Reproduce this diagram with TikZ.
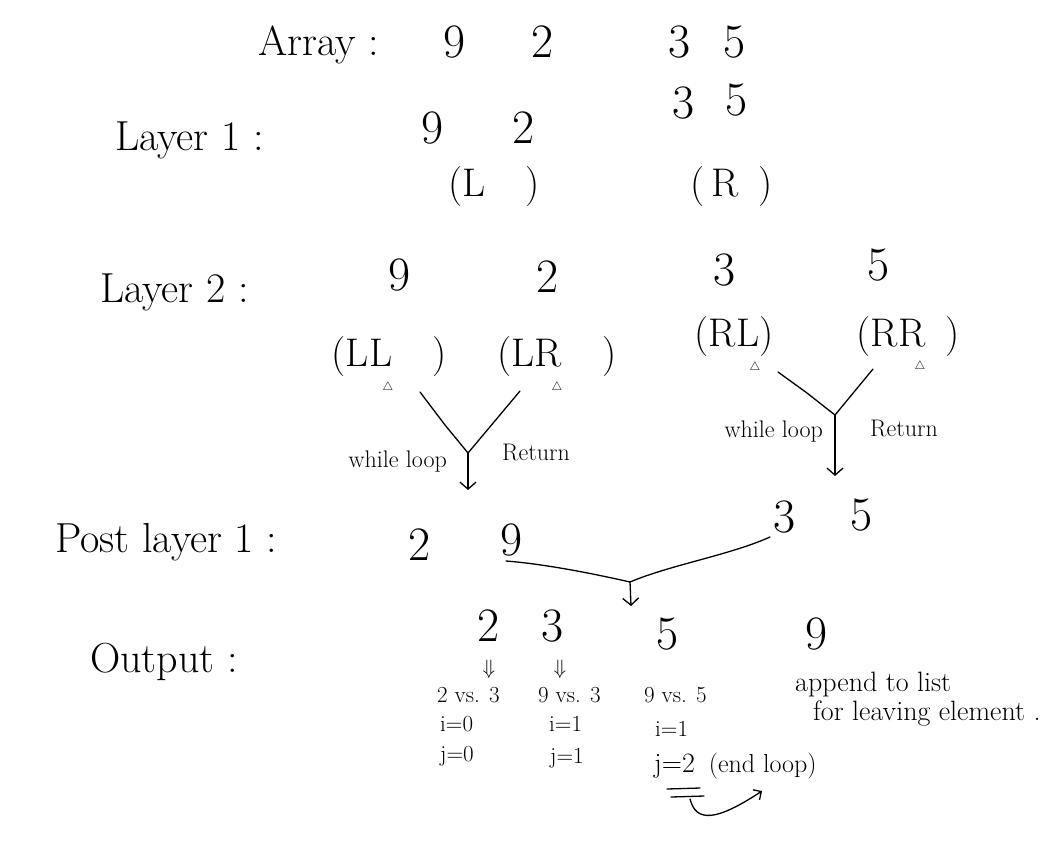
\documentclass[tikz,border=0pt]{standalone}
\usepackage{amsmath}
\usepackage{amssymb}
\usepackage{tikz}
\usetikzlibrary{arrows.meta,positioning}

\begin{document}
\begin{tikzpicture}[
      x=1pt,y=-1pt,
      row_label/.style={
         anchor=west,
         inner sep=0pt,
         font=\fontsize{42}{48}\selectfont},
      num_node/.style={
         inner sep=0pt,
         font=\fontsize{48}{54}\selectfont},
      part_node/.style={
         inner sep=0pt,
         font=\fontsize{40}{46}\selectfont},
      tri_mark/.style={
         inner sep=0pt,
         font=\fontsize{12}{14}\selectfont},
      note_node/.style={
         anchor=west,
         inner sep=0pt,
         font=\fontsize{24}{28}\selectfont},
      list_node/.style={
         anchor=west,
         inner sep=0pt,
         font=\fontsize{28}{32}\selectfont},
      step_node/.style={
         anchor=west,
         inner sep=0pt,
         font=\fontsize{23}{27}\selectfont},
      down_mark/.style={
         inner sep=0pt,
         font=\fontsize{22}{26}\selectfont},
      merge_line/.style={
         line width=1.3pt,
         line cap=round,
         },
      merge_arrow/.style={
         -{Straight Barb[length=7pt,width=16pt]},
         line width=1.3pt,
         }
]
      \useasboundingbox (0,0) rectangle (1056,860);

      %array
      \node[row_label] (array) at (258,45) {Array :};
      \foreach \n/\x/\v in {a1/455/9, a2/543/2, a3/680/3, a4/735/5}
        \node[num_node] (\n) at (\x,42) {\v};

      %layer 1
      \node[row_label] (layer1) at (115,140) {Layer 1 :};
      \foreach \n/\x/\y/\v in {% name/x/y/value
        l1a/433/128/9, l1b/524/128/2, l1c/684/103/3, l1d/737/100/5}
        \node[num_node] (\n) at (\x,\y) {\v};
      \node[part_node] (L) at (494,187) {(L\quad)};
      \node[part_node] (R) at (732,187) {(\,R\enspace)};

      %layer 2
      \node[row_label] (layer2) at (100,292) {Layer 2 :};
      \foreach \n/\x/\y/\v in {
        l2a/400/275/9, l2b/548/277/2, l2c/725/270/3, l2d/879/265/5}
        \node[num_node] (\n) at (\x,\y) {\v};
      \node[part_node] (LL) at (389,357) {(LL\quad)};
      \node[part_node] (LR) at (557,357) {(LR\quad)};
      \node[part_node] (RL) at (734,337) {(RL)};
      \node[part_node] (RR) at (908,337) {(RR\enspace)};
      \foreach \n/\x/\y in {t1/388/387, t2/557/387, t3/755/367, t4/920/366}
        \node[tri_mark] (\n) at (\x,\y) {$\triangle$};

      %merge left
      \coordinate (ll_in) at (420,392);
      \coordinate (lr_in) at (520,391);
      \coordinate (l_join) at (468,453);
      \coordinate (l_out) at (468,490);
      \draw[merge_line] (ll_in) -- (445,425) -- (l_join) -- (lr_in);
      \draw[merge_arrow] (l_join) -- (l_out);
      \node[note_node,anchor=east] (wl1) at (447,462) {while loop};
      \node[note_node] (ret1) at (502,452) {Return};

      %merge right
      \coordinate (rl_in) at (778,372);
      \coordinate (rr_in) at (873,369);
      \coordinate (r_join) at (835,415);
      \coordinate (r_out) at (835,476);
      \draw[merge_line] (rl_in) -- (807,393) -- (r_join) -- (rr_in);
      \draw[merge_arrow] (r_join) -- (r_out);
      \node[note_node,anchor=east] (wl2) at (823,432) {while loop};
      \node[note_node] (ret2) at (870,428) {Return};

      %post layer 1
      \node[row_label] (post) at (55,542) {Post layer 1 :};
      \foreach \n/\x/\y/\v in {
        p1/420/545/2, p2/512/540/9, p3/785/517/3, p4/862/515/5}
        \node[num_node] (\n) at (\x,\y) {\v};
      \coordinate (pl_in) at (506,561);
      \coordinate (pr_in) at (770,537);
      \coordinate (p_join) at (630,582);
      \coordinate (p_out) at (631,606);
      \draw[merge_line] (pl_in) .. controls (545,564) and (595,574) .. (p_join);
      \draw[merge_line] (pr_in) .. controls (730,555) and (670,565) .. (p_join);
      \draw[merge_arrow] (p_join) -- (p_out);

      %output
      \node[row_label] (out) at (90,662) {Output :};
      \foreach \n/\x/\y/\v in {
        o1/489/626/2, o2/553/626/3, o3/668/634/5, o4/817/634/9}
        \node[num_node] (\n) at (\x,\y) {\v};
      \node[down_mark] (d1) at (489,669) {$\Downarrow$};
      \node[down_mark] (d2) at (560,669) {$\Downarrow$};

      \foreach \n/\x/\y/\txt in {% name/x/y/text
        c1/437/695/2 vs. 3, c2/538/695/9 vs. 3, c3/644/695/9 vs. 5,
        i1/440/724/i=0, j1/440/756/j=0,
        i2/549/724/i=1, j2/550/758/j=1,
        i3/655/729/i=1}
        \node[step_node] (\n) at (\x,\y) {\txt};
      \node[list_node] (j3) at (654,766) {j=2\enspace{\fontsize{26}{30}\selectfont(end loop)}};
      \node[list_node] (app) at (795,684) {append to list};
      \node[list_node] (leave) at (813,714) {for leaving element .};

      %end mark
      \coordinate (u1a) at (667,789);
      \coordinate (u1b) at (700,788);
      \coordinate (u2a) at (671,797);
      \coordinate (u2b) at (704,796);
      \draw[merge_line] (u1a) -- (u1b);
      \draw[merge_line] (u2a) -- (u2b);
      \coordinate (c_in) at (690,799);
      \coordinate (c_out) at (762,791);
      \draw[merge_line,-{Straight Barb[length=6pt,width=12pt]}] (c_in) .. controls (696,822) and (715,822) .. (c_out);
\end{tikzpicture}
\end{document}
